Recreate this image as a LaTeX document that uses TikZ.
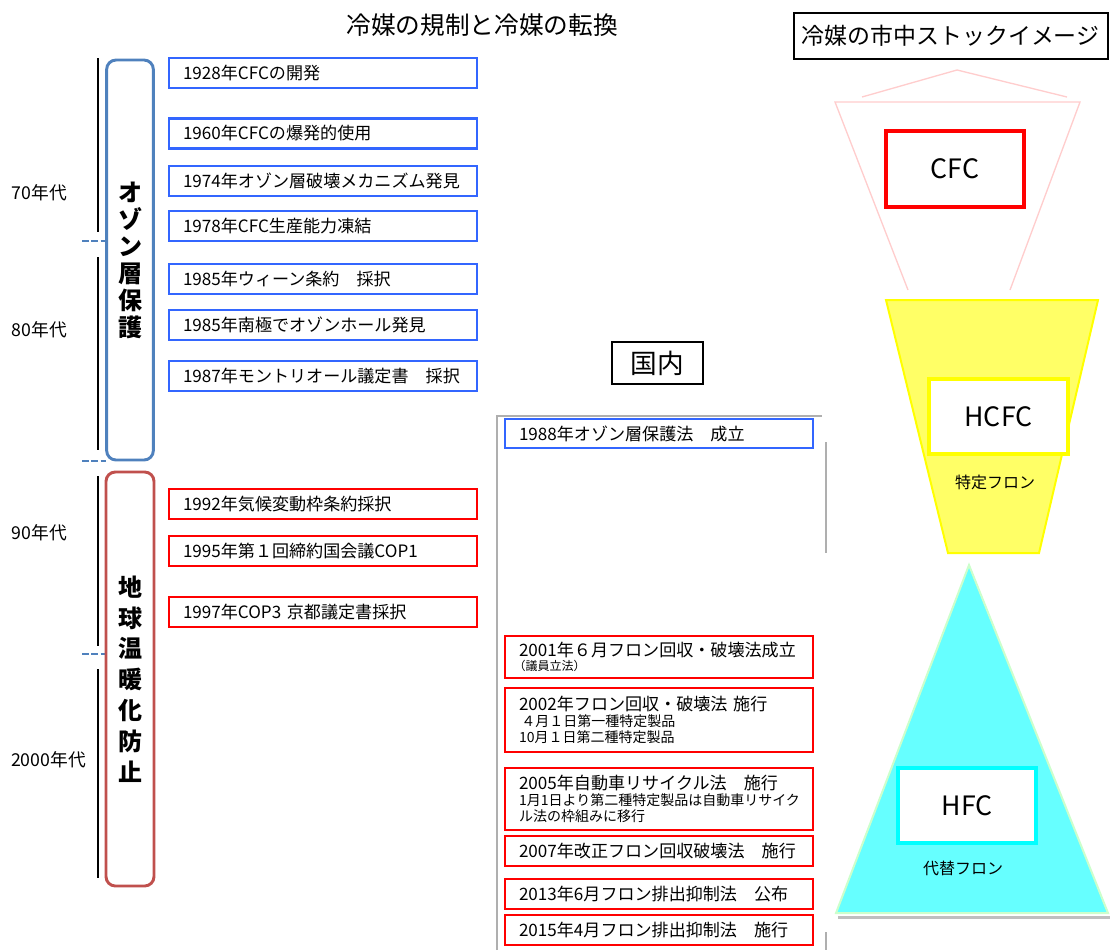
\documentclass[tikz,border=0pt]{standalone}
\usepackage{fontspec}
\setmainfont{Noto Sans CJK JP}
\definecolor{evblue}{RGB}{51,102,255}
\definecolor{evred}{RGB}{255,0,0}
\definecolor{ozblue}{RGB}{79,129,189}
\definecolor{gwred}{RGB}{192,80,77}
\definecolor{framegray}{RGB}{175,175,175}
\definecolor{cfcpink}{RGB}{255,205,205}
\definecolor{hcfcfill}{RGB}{255,255,102}
\definecolor{hcfcline}{RGB}{255,255,0}
\definecolor{hfcfill}{RGB}{102,255,255}
\definecolor{hfcline}{RGB}{204,255,204}
\definecolor{hfcbox}{RGB}{0,255,255}
\newcommand{\subf}{\fontsize{10.5}{12.5}\selectfont}
\begin{document}
\begin{tikzpicture}[x=0.75pt,y=-0.75pt,
  evbox/.style={draw=#1, line width=2pt, minimum width=231pt, text width=210pt,
    inner xsep=10.5pt, inner ysep=0pt, align=left, font=\fontsize{12.8}{14.5}\selectfont},
  decade/.style={font=\fontsize{13.3}{15}\selectfont},
  vbox/.style={draw=#1, line width=2.2pt, rounded corners=7pt, align=center,
    inner sep=0pt},
  titlebox/.style={draw=black, line width=1.5pt, inner sep=0pt},
  gasbox/.style={draw=#1, line width=3pt, fill=white, minimum width=102pt,
    minimum height=56pt, inner sep=0pt, font=\fontsize{20}{22}\selectfont},
  bar/.style={line width=1.6pt},
  sep/.style={ozblue, line width=2.2pt, dash pattern=on 5pt off 2pt},
  frame/.style={framegray, line width=1.6pt}
]
\useasboundingbox (0,0) rectangle (1112,950);

% titles
\node[font=\fontsize{18.5}{20}\selectfont] (maintitle) at (482,25) {冷媒の規制と冷媒の転換};
\node[titlebox, minimum width=235.5pt, minimum height=34.5pt, font=\fontsize{17.2}{19}\selectfont] (stocktitle) at (950.5,36) {冷媒の市中ストックイメージ};
\node[titlebox, minimum width=68pt, minimum height=31.5pt, font=\fontsize{20}{22}\selectfont] (kokunai) at (657.5,363) {国内};

% decade bars
\draw[bar] (98,58) -- (98,232);
\draw[bar] (98,257) -- (98,450);
\draw[bar] (98,476) -- (98,646);
\draw[bar] (98,669) -- (98,878);
\draw[sep] (82,241) -- (106,241);
\draw[sep] (82,461) -- (106,461);
\draw[sep] (82,654) -- (106,654);

\node[decade] (d70) at (39.5,193) {70年代};
\node[decade] (d80) at (39.5,330) {80年代};
\node[decade] (d90) at (39.5,533) {90年代};
\node[decade] (d00) at (48.5,760) {2000年代};

% category boxes
\node[vbox=ozblue, minimum width=35pt, minimum height=300pt,
  font=\fontsize{18}{20.25}\selectfont\bfseries] (ozone) at (130,260)
  {オ\\ゾ\\ン\\層\\保\\護};
\node[vbox=gwred, minimum width=36pt, minimum height=310.5pt,
  font=\fontsize{18}{23.1}\selectfont\bfseries] (warming) at (130,679)
  {地\\球\\温\\暖\\化\\防\\止};

% international events
\node[evbox=evblue, minimum height=22.5pt] (e1928) at (323,73) {1928年CFCの開発};
\node[evbox=evblue, minimum height=22.5pt] (e1960) at (323,133.5) {1960年CFCの爆発的使用};
\node[evbox=evblue, minimum height=22.5pt] (e1974) at (323,181) {1974年オゾン層破壊メカニズム発見};
\node[evbox=evblue, minimum height=22.5pt] (e1978) at (323,226) {1978年CFC生産能力凍結};
\node[evbox=evblue, minimum height=22.5pt] (e1985a) at (323,279) {1985年ウィーン条約\quad 採択};
\node[evbox=evblue, minimum height=22.5pt] (e1985b) at (323,325) {1985年南極でオゾンホール発見};
\node[evbox=evblue, minimum height=22.5pt] (e1987) at (323,376) {1987年モントリオール議定書\quad 採択};
\node[evbox=evred, minimum height=22.5pt] (e1992) at (323,504) {1992年気候変動枠条約採択};
\node[evbox=evred, minimum height=22.5pt] (e1995) at (323,551) {1995年第１回締約国会議COP1};
\node[evbox=evred, minimum height=22.5pt] (e1997) at (323,612) {1997年COP3 京都議定書採択};

% domestic frame
\draw[frame] (497,950) -- (497,416) -- (822,416);
\draw[frame] (826,442) -- (826,553);
\draw[frame] (826,932) -- (826,950);

% domestic events
\node[evbox=evblue, minimum height=21.75pt] (j1988) at (659,433.5) {1988年オゾン層保護法\quad 成立};
\node[evbox=evred, minimum height=31.5pt] (j2001) at (659,657)
  {2001年６月フロン回収・破壊法成立\\[-3.5pt]{\fontsize{9}{10}\selectfont\hspace*{-4pt}（議員立法）}};
\node[evbox=evred, minimum height=48pt] (j2002) at (659,720)
  {2002年フロン回収・破壊法 施行\\[-2.5pt]{\subf \,４月１日第一種特定製品}\\[-3pt]{\subf 10月１日第二種特定製品}};
\node[evbox=evred, minimum height=46.5pt] (j2005) at (659,799)
  {2005年自動車リサイクル法\quad 施行\\[-2.5pt]{\subf 1月1日より第二種特定製品は自動車リサイク}\\[-3pt]{\subf ル法の枠組みに移行}};
\node[evbox=evred, minimum height=22.5pt] (j2007) at (659,851) {2007年改正フロン回収破壊法\quad 施行};
\node[evbox=evred, minimum height=22.5pt] (j2013) at (659,894) {2013年6月フロン排出抑制法\quad 公布};
\node[evbox=evred, minimum height=22.5pt] (j2015) at (659,930) {2015年4月フロン排出抑制法\quad 施行};

% refrigerant stock image
\draw[cfcpink, line width=1pt] (862,97) -- (957,70) -- (1067,97);
\draw[cfcpink, line width=1pt] (908,290) -- (835,102) -- (1080,102) -- (1010,290);
\node[gasbox=evred, minimum width=103.5pt, minimum height=57pt] (cfc) at (955,169) {CFC};

\draw[hcfcline, line width=1.5pt, fill=hcfcfill] (886,300) -- (1098,300) -- (1039,553) -- (948,553) -- cycle;
\node[gasbox=hcfcline, minimum width=104pt, minimum height=56pt] (hcfc) at (998.5,416.5) {HCFC};
\node[font=\fontsize{12}{14}\selectfont] (tokutei) at (995,482) {特定フロン};

\fill[black!25] (838,916) -- (1110,916) -- (1110,919) -- (838,919) -- cycle;
\draw[hfcline, line width=1.5pt, fill=hfcfill] (969,565) -- (1108,913) -- (836,913) -- cycle;
\node[gasbox=hfcbox, minimum width=103.5pt, minimum height=56pt] (hfc) at (967,805.5) {HFC};
\node[font=\fontsize{12}{14}\selectfont] (daitai) at (963,868) {代替フロン};
\end{tikzpicture}
\end{document}
